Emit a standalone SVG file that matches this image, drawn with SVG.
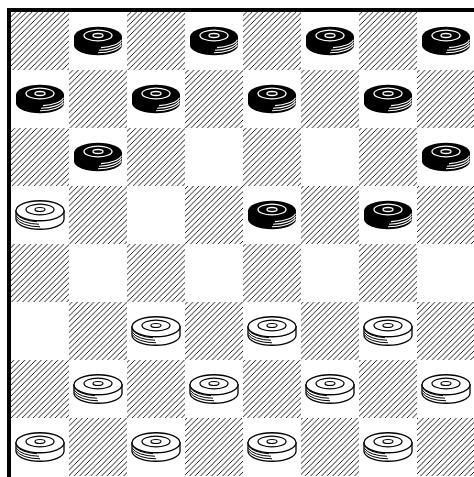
<svg xmlns="http://www.w3.org/2000/svg" xmlns:xlink="http://www.w3.org/1999/xlink" width="474" height="477" viewBox="0 0 474 477">
<defs>
<style>
.dark{fill:url(#hatch)}
.bd{fill:#000}
.ring-b{fill:none;stroke:#fff;stroke-width:1.3}
.line-b{fill:none;stroke:#fff;stroke-width:1.1}
.wbody{fill:#fff;stroke:#000;stroke-width:1.3}
.ring-w{fill:none;stroke:#000;stroke-width:1.2}
.line-w{fill:none;stroke:#000;stroke-width:1}
</style>
<pattern id="hatch" patternUnits="userSpaceOnUse" width="5.5" height="5.5">
<path d="M-1,1 L1,-1 M0,5.5 L5.5,0 M4.5,6.5 L6.5,4.5" stroke="#000" stroke-width="0.9"/>
</pattern>
<g id="bp">
<path class="bd" d="M-24,-4.25 V4.25 A24 10 0 0 0 24,4.25 V-4.25 Z"/>
<ellipse class="bd" cx="0" cy="-4.25" rx="24" ry="10"/>
<ellipse class="ring-b" cx="0" cy="-5.5" rx="14" ry="5.3"/>
<ellipse class="ring-b" cx="0" cy="-5.5" rx="5" ry="2"/>
<path class="line-b" d="M0,11.75 A24 10 0 0 0 23.5,3.78 M1,9.24 A24 10 0 0 0 23.5,1.28 M3,6.67 A24 10 0 0 0 23.5,-1.22"/>
</g>
<g id="wp">
<path class="wbody" d="M-24,-4.25 V4.25 A24 10 0 0 0 24,4.25 V-4.25 Z"/>
<ellipse class="wbody" cx="0" cy="-4.25" rx="24" ry="10"/>
<ellipse class="ring-w" cx="0" cy="-5.5" rx="14" ry="5.3"/>
<ellipse class="ring-w" cx="0" cy="-5.5" rx="5" ry="2"/>
<path class="line-w" d="M-23.5,3.78 A24 10 0 0 0 0,11.75 M-23.5,1.28 A24 10 0 0 0 -1,9.24 M-23.5,-1.22 A24 10 0 0 0 -3,6.67"/>
</g>
</defs>
<rect x="0" y="0" width="474" height="477" fill="#fff"/>
<g id="board">
<rect class="dark" x="11" y="12" width="58" height="58"/>
<rect class="dark" x="127" y="12" width="58" height="58"/>
<rect class="dark" x="243" y="12" width="58" height="58"/>
<rect class="dark" x="359" y="12" width="58" height="58"/>
<rect class="dark" x="69" y="70" width="58" height="58"/>
<rect class="dark" x="185" y="70" width="58" height="58"/>
<rect class="dark" x="301" y="70" width="58" height="58"/>
<rect class="dark" x="417" y="70" width="58" height="58"/>
<rect class="dark" x="11" y="128" width="58" height="58"/>
<rect class="dark" x="127" y="128" width="58" height="58"/>
<rect class="dark" x="243" y="128" width="58" height="58"/>
<rect class="dark" x="359" y="128" width="58" height="58"/>
<rect class="dark" x="69" y="186" width="58" height="58"/>
<rect class="dark" x="185" y="186" width="58" height="58"/>
<rect class="dark" x="301" y="186" width="58" height="58"/>
<rect class="dark" x="417" y="186" width="58" height="58"/>
<rect class="dark" x="11" y="244" width="58" height="58"/>
<rect class="dark" x="127" y="244" width="58" height="58"/>
<rect class="dark" x="243" y="244" width="58" height="58"/>
<rect class="dark" x="359" y="244" width="58" height="58"/>
<rect class="dark" x="69" y="302" width="58" height="58"/>
<rect class="dark" x="185" y="302" width="58" height="58"/>
<rect class="dark" x="301" y="302" width="58" height="58"/>
<rect class="dark" x="417" y="302" width="58" height="58"/>
<rect class="dark" x="11" y="360" width="58" height="58"/>
<rect class="dark" x="127" y="360" width="58" height="58"/>
<rect class="dark" x="243" y="360" width="58" height="58"/>
<rect class="dark" x="359" y="360" width="58" height="58"/>
<rect class="dark" x="69" y="418" width="58" height="58"/>
<rect class="dark" x="185" y="418" width="58" height="58"/>
<rect class="dark" x="301" y="418" width="58" height="58"/>
<rect class="dark" x="417" y="418" width="58" height="58"/>
<rect class="bd" x="7" y="8" width="4" height="469"/>
<rect class="bd" x="7" y="8" width="467" height="4"/>
</g>
<g id="connectors"/>
<g id="b-r0c1"><use xlink:href="#bp" x="98" y="41"/></g>
<g id="b-r0c3"><use xlink:href="#bp" x="214" y="41"/></g>
<g id="b-r0c5"><use xlink:href="#bp" x="330" y="41"/></g>
<g id="b-r0c7"><use xlink:href="#bp" x="446" y="41"/></g>
<g id="b-r1c0"><use xlink:href="#bp" x="40" y="99"/></g>
<g id="b-r1c2"><use xlink:href="#bp" x="156" y="99"/></g>
<g id="b-r1c4"><use xlink:href="#bp" x="272" y="99"/></g>
<g id="b-r1c6"><use xlink:href="#bp" x="388" y="99"/></g>
<g id="b-r2c1"><use xlink:href="#bp" x="98" y="157"/></g>
<g id="b-r2c7"><use xlink:href="#bp" x="446" y="157"/></g>
<g id="b-r3c4"><use xlink:href="#bp" x="272" y="215"/></g>
<g id="b-r3c6"><use xlink:href="#bp" x="388" y="215"/></g>
<g id="w-r3c0"><use xlink:href="#wp" x="40" y="215"/></g>
<g id="w-r5c2"><use xlink:href="#wp" x="156" y="331"/></g>
<g id="w-r5c4"><use xlink:href="#wp" x="272" y="331"/></g>
<g id="w-r5c6"><use xlink:href="#wp" x="388" y="331"/></g>
<g id="w-r6c1"><use xlink:href="#wp" x="98" y="389"/></g>
<g id="w-r6c3"><use xlink:href="#wp" x="214" y="389"/></g>
<g id="w-r6c5"><use xlink:href="#wp" x="330" y="389"/></g>
<g id="w-r6c7"><use xlink:href="#wp" x="446" y="389"/></g>
<g id="w-r7c0"><use xlink:href="#wp" x="40" y="447"/></g>
<g id="w-r7c2"><use xlink:href="#wp" x="156" y="447"/></g>
<g id="w-r7c4"><use xlink:href="#wp" x="272" y="447"/></g>
<g id="w-r7c6"><use xlink:href="#wp" x="388" y="447"/></g>
</svg>
